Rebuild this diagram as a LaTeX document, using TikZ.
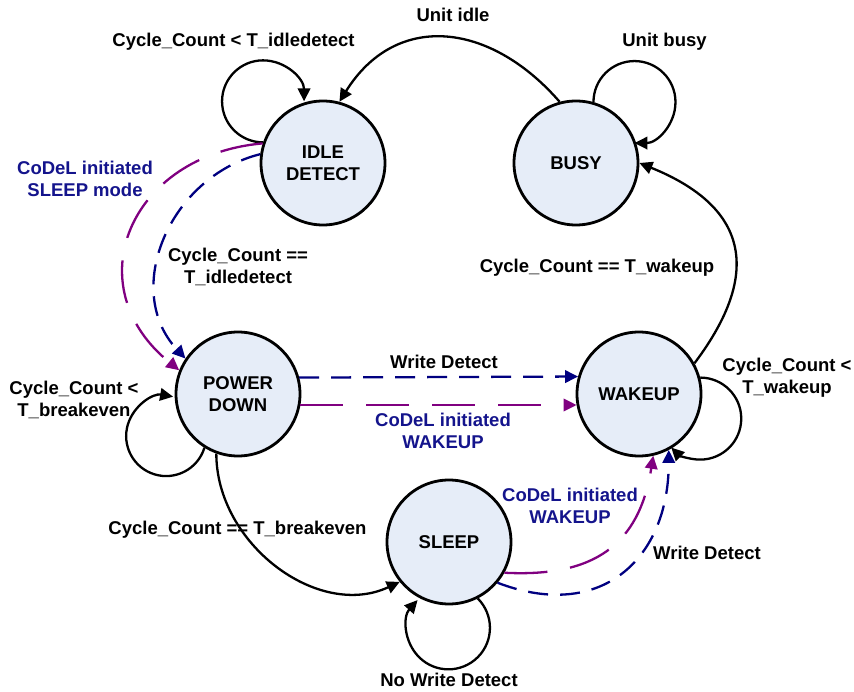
\documentclass[tikz,border=0pt]{standalone}
\usepackage{fontspec}
\setmainfont{Liberation Sans}
\usetikzlibrary{arrows.meta}
\definecolor{nodefill}{RGB}{230,237,248}
\definecolor{cblue}{RGB}{0,0,128}
\definecolor{cpurple}{RGB}{128,0,128}
\definecolor{tblue}{RGB}{20,20,140}
\begin{document}
\begin{tikzpicture}[x=1pt,y=1pt,
  state/.style={circle,draw=black,line width=2.8pt,fill=nodefill,minimum size=124pt,inner sep=0pt,align=center,font=\fontsize{18.5}{22}\selectfont\bfseries},
  lbl/.style={font=\fontsize{18.5}{22}\selectfont\bfseries,align=center,inner sep=0pt},
  tr/.style={line width=2.3pt,-{Triangle[length=13pt,width=12.5pt]}},
  bdash/.style={tr,draw=cblue,dash pattern=on 20pt off 12pt},
  pdash/.style={tr,draw=cpurple,dash pattern=on 43pt off 23pt},
]
\useasboundingbox (0,0) rectangle (854,-692);
% states
\node[state] (idle) at (323,-163) {IDLE\\DETECT};
\node[state] (busy) at (576,-163) {BUSY};
\node[state] (pd) at (238,-394) {POWER\\DOWN};
\node[state] (wake) at (639,-394) {WAKEUP};
\node[state] (sleep) at (449,-542) {SLEEP};
% labels
\node[lbl] (lunitidle) at (453,-15) {Unit idle};
\node[lbl] (lidleloop) at (233.5,-42) {Cycle\_Count < T\_idledetect};
\node[lbl] (lbusyloop) at (664.5,-42) {Unit busy};
\node[lbl,text=tblue] (lsleepmode) at (85,-179) {CoDeL initiated\\SLEEP mode};
\node[lbl] (lidlepd) at (238,-267) {Cycle\_Count ==\\T\_idledetect};
\node[lbl] (lwakebusy) at (597,-268) {Cycle\_Count == T\_wakeup};
\node[lbl] (lwrite1) at (444,-362) {Write Detect};
\node[lbl,text=tblue] (lcodel1) at (443,-431) {CoDeL initiated\\WAKEUP};
\node[lbl] (lpdloop) at (74,-400) {Cycle\_Count <\\T\_breakeven};
\node[lbl] (lwakeloop) at (787,-378) {Cycle\_Count <\\T\_wakeup};
\node[lbl] (lpdsleep) at (237.5,-530) {Cycle\_Count == T\_breakeven};
\node[lbl,text=tblue] (lcodel2) at (570,-506) {CoDeL initiated\\WAKEUP};
\node[lbl] (lwrite2) at (707,-553) {Write Detect};
\node[lbl] (lnowrite) at (449,-680) {No Write Detect};
% solid transitions
\draw[tr] (busy.105) to[out=131,in=58,looseness=1.24] (idle.75);
\draw[tr] (idle.161) arc[start angle=270,end angle=0,radius=41];
\draw[tr] (busy.74) arc[start angle=180,end angle=-90,radius=41];
\draw[tr] (wake.29) to[out=53,in=-22,looseness=1.42] (busy.0);
\draw[tr] (wake.15) arc[start angle=90,end angle=-135,radius=41];
\draw[tr] (pd.238) arc[start angle=-17,end angle=-280,radius=40];
\draw[tr] (pd.250) to[out=-90,in=205,looseness=1.03] (sleep.219);
\draw[tr] (sleep.-63) arc[start angle=45,end angle=-222,radius=41.5];
% dashed transitions
\draw[bdash] (idle.172) to[out=194,in=133,looseness=1.1] (pd.146);
\draw[pdash] (idle.162) to[out=185,in=141,looseness=1.42] (pd.158.5);
\draw[bdash] (pd.15.6) -- (wake.164.4);
\draw[pdash] (pd.-10) -- (wake.190);
\draw[pdash] (sleep.-29) to[out=-3,in=-99,looseness=1.22] (wake.-77.7);
\draw[bdash] (sleep.-40.5) to[out=-21,in=-90,looseness=1.3] (wake.-62.7);
\end{tikzpicture}
\end{document}
